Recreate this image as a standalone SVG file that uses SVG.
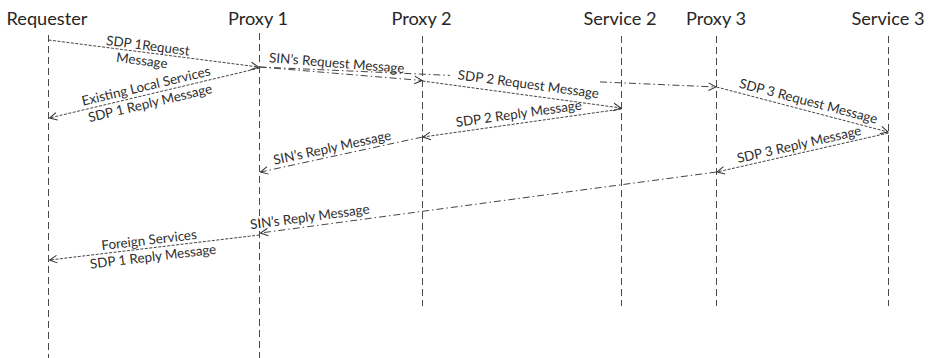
<svg xmlns="http://www.w3.org/2000/svg" width="932" height="358" viewBox="0 0 932 358">
  <style>
    .head { font-family: Lato, "Liberation Sans", sans-serif; font-size: 18.2px; fill: #262626; text-anchor: middle; }
    .life { stroke: #4a4a4a; stroke-width: 1; stroke-dasharray: 7 4; fill: none; }
    .sdp { stroke: #444444; stroke-width: 1; stroke-dasharray: 3 1.5; fill: none; }
    .sin { stroke: #444444; stroke-width: 1; stroke-dasharray: 7 3 1.5 3; fill: none; }
    .arr { marker-end: url(#open); }
    .lbl { font-family: Lato, "Liberation Sans", sans-serif; font-size: 13.4px; fill: #2e2e2e; text-anchor: middle; }
  </style>
  <defs>
    <marker id="open" viewBox="-9 -5 10 10" refX="0" refY="0" markerWidth="10" markerHeight="10" markerUnits="userSpaceOnUse" orient="auto">
      <path d="M-7.5,-3.8 L0,0 L-7.5,3.8" fill="none" stroke="#333333" stroke-width="1"/>
    </marker>
  </defs>
  <rect width="932" height="358" fill="#ffffff"/>

  <!-- participants: header and lifeline -->
  <g id="requester">
    <text class="head" x="47" y="24.5">Requester</text>
    <line class="life" x1="48.5" y1="35" x2="48.5" y2="358"/>
  </g>
  <g id="proxy1">
    <text class="head" x="258" y="24.5">Proxy 1</text>
    <line class="life" x1="259.5" y1="33" x2="259.5" y2="358"/>
  </g>
  <g id="proxy2">
    <text class="head" x="421.5" y="24.5">Proxy 2</text>
    <line class="life" x1="422.5" y1="36" x2="422.5" y2="306"/>
  </g>
  <g id="service2">
    <text class="head" x="620" y="24.5">Service 2</text>
    <line class="life" x1="621.5" y1="36" x2="621.5" y2="306"/>
  </g>
  <g id="proxy3">
    <text class="head" x="716" y="24.5">Proxy 3</text>
    <line class="life" x1="716.5" y1="36" x2="716.5" y2="306"/>
  </g>
  <g id="service3">
    <text class="head" x="888" y="24.5">Service 3</text>
    <line class="life" x1="888.5" y1="36" x2="888.5" y2="306"/>
  </g>

  <!-- messages -->
  <g id="connectors">
    <path class="sdp arr" d="M48.5,40 L258.5,67"/>
    <path class="sdp arr" d="M259.5,68 L49.5,118"/>
    <path class="sin" d="M259.5,67 L450,75.4"/>
    <path class="sin arr" d="M600,81.9 L716,87"/>
    <path class="sin arr" d="M259.5,67 L422,80.5"/>
    <path class="sdp arr" d="M422.5,81 L621,108"/>
    <path class="sdp arr" d="M621.5,109 L423,137"/>
    <path class="sin arr" d="M422.5,137 L260.5,172"/>
    <path class="sdp arr" d="M716.5,87 L888,132"/>
    <path class="sdp arr" d="M888.5,133 L717,172"/>
    <path class="sin arr" d="M716.5,172 L260.5,233"/>
    <path class="sdp arr" d="M259.5,235 L49.5,260"/>
  </g>

  <!-- message labels, turned to follow their lines -->
  <g id="labels">
    <g transform="translate(147,52.7) rotate(7.29)">
      <text class="lbl" x="0" y="-2.5">SDP 1Request</text>
      <text class="lbl" x="-4" y="13">Message</text>
    </g>
    <g transform="translate(148,94.4) rotate(-13.39)">
      <text class="lbl" x="0" y="-4">Existing Local Services</text>
      <text class="lbl" x="0" y="13.5">SDP 1 Reply Message</text>
    </g>
    <g transform="translate(336,73.1) rotate(4.56)">
      <text class="lbl" x="0" y="-5.5">SIN’s Request Message</text>
    </g>
    <g transform="translate(527,95.2) rotate(7.7)">
      <text class="lbl" x="0" y="-6.5">SDP 2 Request Message</text>
    </g>
    <g transform="translate(520,123.2) rotate(-8)">
      <text class="lbl" x="0" y="-5">SDP 2 Reply Message</text>
    </g>
    <g transform="translate(334,156) rotate(-12.2)">
      <text class="lbl" x="0" y="-4">SIN’s Reply Message</text>
    </g>
    <g transform="translate(806,110.5) rotate(14.7)">
      <text class="lbl" x="0" y="-5">SDP 3 Request Message</text>
    </g>
    <g transform="translate(801,152.8) rotate(-12.85)">
      <text class="lbl" x="0" y="-4">SDP 3 Reply Message</text>
    </g>
    <g transform="translate(311,226.3) rotate(-7.6)">
      <text class="lbl" x="0" y="-5">SIN’s Reply Message</text>
    </g>
    <g transform="translate(150,248) rotate(-6.79)">
      <text class="lbl" x="0" y="-3.5">Foreign Services</text>
      <text class="lbl" x="2" y="13.5">SDP 1 Reply Message</text>
    </g>
  </g>
</svg>
